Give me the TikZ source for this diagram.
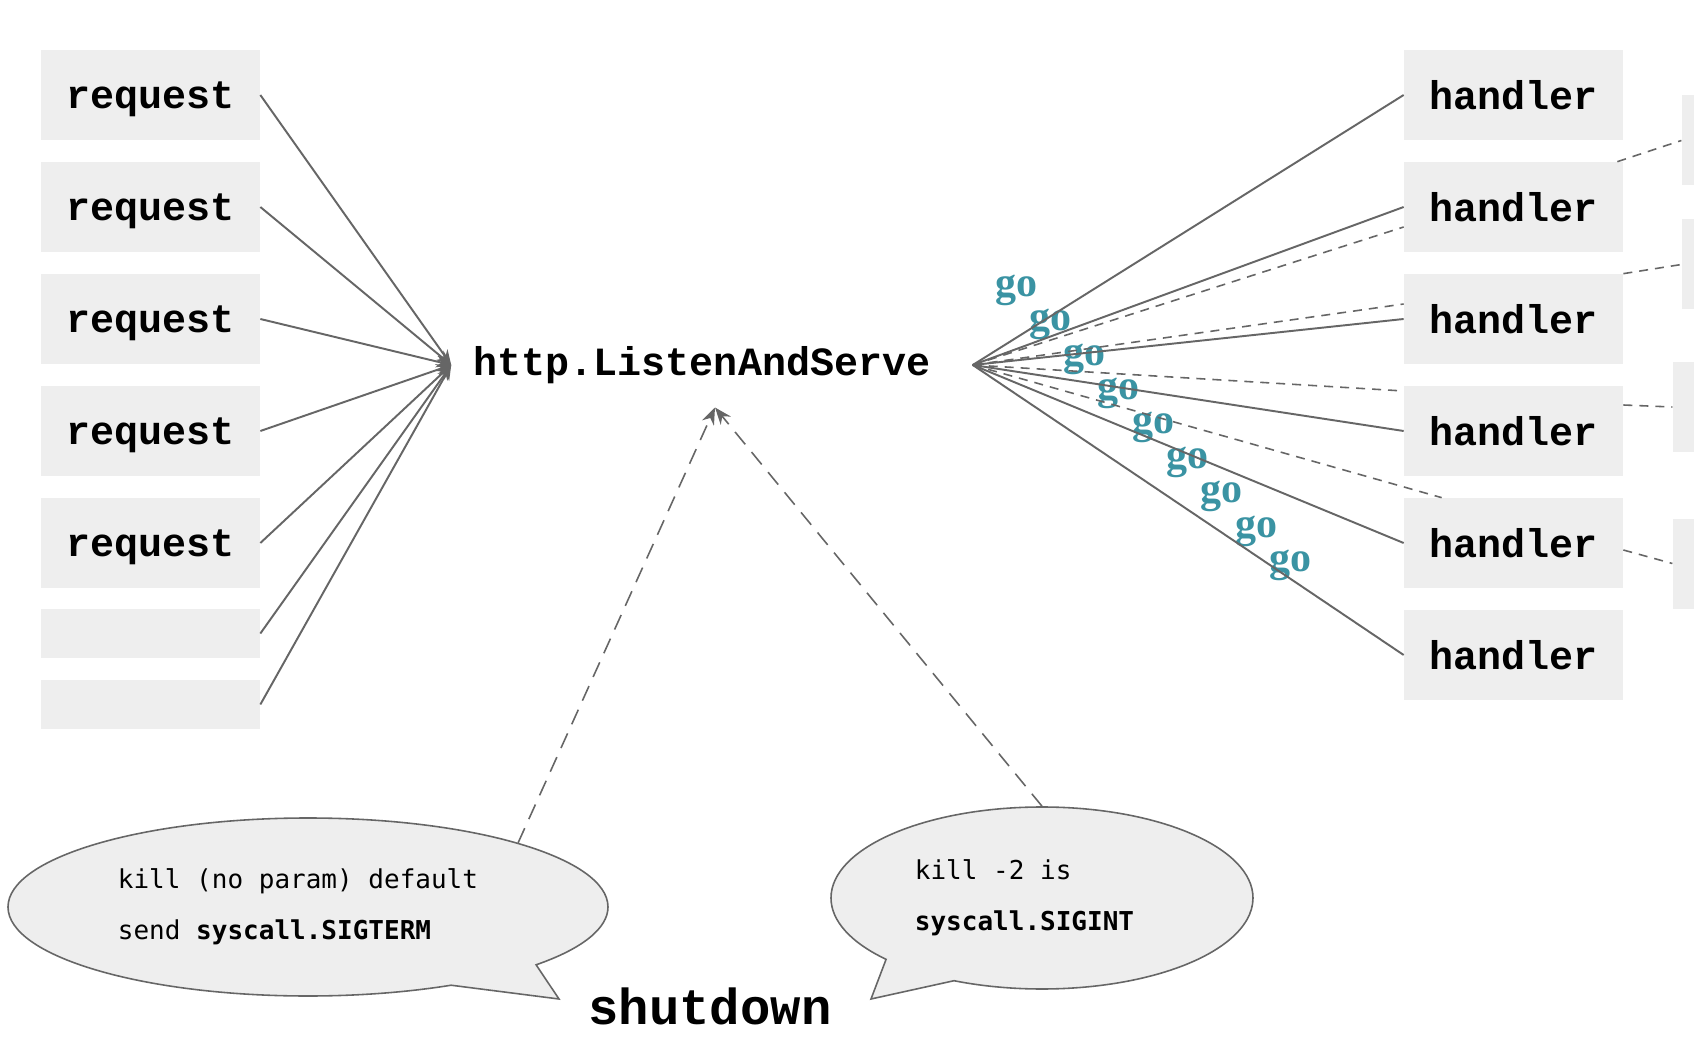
\documentclass[tikz,border=0pt]{standalone}
\usepackage{fontspec}
\setmainfont{Liberation Serif}
\newfontfamily\codefont{Liberation Mono}
\newfontfamily\termfont{DejaVu Sans Mono}
\usepackage{xcolor}
\usetikzlibrary{shapes.geometric, shapes.callouts, arrows.meta, positioning, calc}

\definecolor{boxgray}{HTML}{EEEEEE}
\definecolor{linegray}{HTML}{666666}
\definecolor{goteal}{HTML}{3A93A3}

\begin{document}
\begin{tikzpicture}[node distance=2.24cm, font=\codefont\bfseries\fontsize{22.8pt}{27pt}\selectfont]
\tikzstyle{box} = [rectangle, minimum width=4.38cm, minimum height=1.8cm,
    text centered, fill=boxgray, inner sep=0pt, text depth=0pt]
\tikzstyle{stub} = [box, minimum height=0.98cm]
\tikzstyle{arrow} = [line width=1.1pt, draw=linegray, ->, >={Stealth[length=0.3cm, width=0.24cm]}]
\tikzstyle{line} = [line width=1.1pt, draw=linegray]
\tikzstyle{dline} = [line width=0.9pt, draw=linegray, dash pattern=on 0.18cm off 0.14cm]
\tikzstyle{sigarrow} = [line width=0.9pt, draw=linegray, dash pattern=on 0.32cm off 0.2cm,
    ->, >={Stealth[length=0.34cm, width=0.26cm]}]
\tikzstyle{gotag} = [text=goteal, inner sep=0pt,
    font=\rmfamily\bfseries\fontsize{23.9pt}{26pt}\selectfont]
\tikzstyle{bubble} = [ellipse callout, draw=linegray, line width=0.9pt, fill=boxgray,
    align=left, inner sep=0pt, font=\termfont\mdseries\fontsize{14.8pt}{29pt}\selectfont]

\clip (0,0) rectangle (33.88,-21.08);
\fill [white] (0,0) rectangle (33.88,-21.08);

% incoming requests
\node (req1) [box] at (3.01,-1.9) {request};
\node (req2) [box, below of=req1] {request};
\node (req3) [box, below of=req2] {request};
\node (req4) [box, below of=req3] {request};
\node (req5) [box, below of=req4] {request};
\node (blank1) [stub, below of=req5, yshift=0.43cm] {};
\node (blank2) [stub, below of=blank1, yshift=0.82cm] {};

\node (http) [inner xsep=0.44cm] at (14.04,-7.3) {http.ListenAndServe};
\coordinate (fan) at ([xshift=0.4cm]http.east);
\coordinate (stop) at (14.3,-8.15);

% handlers
\node (hnd1) [box] at (30.27,-1.9) {handler};
\node (hnd2) [box, below of=hnd1] {handler};
\node (hnd3) [box, below of=hnd2] {handler};
\node (hnd4) [box, below of=hnd3] {handler};
\node (hnd5) [box, below of=hnd4] {handler};
\node (hnd6) [box, below of=hnd5] {handler};

\node (hid1) [box, right=1.16cm of hnd2, yshift=1.33cm] {};
\node (hid2) [box, right=1.16cm of hnd2, yshift=-1.15cm] {};
\node (hid3) [box, right=0.98cm of hnd4, yshift=0.48cm] {};
\node (hid4) [box, right=0.98cm of hnd5, yshift=-0.41cm] {};

\node (go1) [gotag] at (20.32,-5.8) {go};
\node (go2) [gotag] at (21.0,-6.49) {go};
\node (go3) [gotag] at (21.69,-7.18) {go};
\node (go4) [gotag] at (22.37,-7.86) {go};
\node (go5) [gotag] at (23.06,-8.55) {go};
\node (go6) [gotag] at (23.74,-9.24) {go};
\node (go7) [gotag] at (24.43,-9.93) {go};
\node (go8) [gotag] at (25.12,-10.62) {go};
\node (go9) [gotag] at (25.8,-11.3) {go};

% signals
\node (term) [bubble, minimum width=12cm, minimum height=3.56cm,
    callout absolute pointer={(11.18,-19.98)}, callout pointer arc=21]
    at (6.16,-18.14) {kill (no param) default\rule{0.4cm}{0pt}\\send \textbf{syscall.SIGTERM}\rule[-0.12cm]{0pt}{0pt}};
\node (intr) [bubble, minimum width=8.44cm, minimum height=3.64cm,
    callout absolute pointer={(17.42,-19.98)}, callout pointer arc=23]
    at (20.84,-17.96) {kill -2 is\\\textbf{syscall.SIGINT}\rule[-0.12cm]{0.7cm}{0pt}};
\node (shut) [font=\codefont\bfseries\fontsize{28.8pt}{30pt}\selectfont] at (14.2,-20.12) {shutdown};

\draw [arrow] (req1.east) -- (http.west);
\draw [arrow] (req2.east) -- (http.west);
\draw [arrow] (req3.east) -- (http.west);
\draw [arrow] (req4.east) -- (http.west);
\draw [arrow] (req5.east) -- (http.west);
\draw [arrow] (blank1.east) -- (http.west);
\draw [arrow] (blank2.east) -- (http.west);

\draw [line] (fan) -- (hnd1.west);
\draw [line] (fan) -- (hnd2.west);
\draw [line] (fan) -- (hnd3.west);
\draw [line] (fan) -- (hnd4.west);
\draw [line] (fan) -- (hnd5.west);
\draw [line] (fan) -- (hnd6.west);
\draw [dline] (fan) -- ([yshift=-0.4cm]hnd2.west);
\draw [dline] (fan) -- ([yshift=0.3cm]hnd3.west);
\draw [dline] (fan) -- ([yshift=0.8cm]hnd4.west);
\draw [dline] (fan) -- ([xshift=0.76cm]hnd5.north west);

\draw [dline] ([xshift=-0.12cm]hnd2.north east) -- (hid1.west);
\draw [dline] (hnd3.north east) -- (hid2.west);
\draw [dline] ([yshift=0.52cm]hnd4.east) -- (hid3.west);
\draw [dline] ([yshift=-0.14cm]hnd5.east) -- (hid4.west);

\draw [sigarrow] (term.17) -- (stop);
\draw [sigarrow] (intr.north) -- (stop);

\end{tikzpicture}
\end{document}
